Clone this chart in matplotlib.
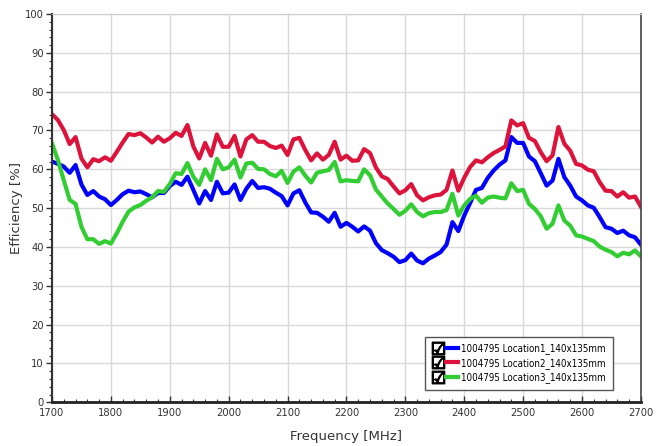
import numpy as np
import matplotlib
matplotlib.use("Agg")
import matplotlib.pyplot as plt
from matplotlib import font_manager
from matplotlib.lines import Line2D
from matplotlib.legend_handler import HandlerTuple

# frequency axis, 10 MHz steps
freq = np.arange(1700, 2701, 10)

loc1 = [62.0, 61.4, 60.7, 59.1, 61.1, 56.1, 53.4, 54.4, 53.0, 52.3,
        50.8, 52.1, 53.6, 54.5, 54.1, 54.3, 53.6, 52.8, 53.9, 53.9,
        55.7, 56.8, 56.0, 58.1, 54.7, 51.2, 54.4, 52.1, 56.8, 53.8,
        54.0, 56.1, 52.1, 55.0, 57.0, 55.2, 55.4, 55.0, 54.0, 53.1,
        50.7, 53.8, 54.6, 51.5, 48.9, 48.8, 47.8, 46.5, 48.8, 45.2,
        46.2, 45.2, 44.0, 45.3, 44.2, 41.0, 39.2, 38.4, 37.5, 36.1,
        36.6, 38.3, 36.5, 35.8, 37.0, 37.8, 38.7, 40.6, 46.4, 44.1,
        48.1, 51.3, 54.7, 55.2, 57.8, 59.7, 61.2, 62.3, 68.3, 66.8,
        66.8, 63.3, 62.1, 59.0, 55.8, 57.1, 62.7, 58.0, 55.8, 53.0,
        52.0, 50.7, 50.1, 47.7, 45.1, 44.7, 43.6, 44.2, 43.0, 42.5,
        40.6]

loc2 = [74.2, 72.7, 70.1, 66.5, 68.3, 62.8, 60.5, 62.6, 62.1, 63.1,
        62.2, 64.5, 66.9, 69.1, 68.8, 69.3, 68.2, 66.9, 68.4, 67.1,
        68.0, 69.4, 68.6, 71.4, 65.9, 62.8, 66.8, 63.5, 69.0, 65.8,
        65.8, 68.6, 63.3, 67.7, 68.8, 67.1, 67.1, 66.0, 65.5, 66.1,
        63.7, 67.7, 68.1, 65.0, 62.3, 64.1, 62.5, 63.7, 67.1, 62.5,
        63.5, 62.2, 62.3, 65.2, 64.2, 60.5, 58.2, 57.5, 55.6, 53.8,
        54.6, 56.2, 53.3, 52.0, 52.8, 53.3, 53.5, 54.7, 59.7, 54.5,
        57.8, 60.6, 62.3, 61.8, 63.1, 64.2, 65.0, 65.9, 72.6, 71.3,
        71.9, 68.1, 67.3, 64.4, 62.1, 63.6, 70.9, 66.6, 64.8, 61.4,
        61.0, 59.9, 59.5, 56.7, 54.5, 54.4, 53.0, 54.1, 52.7, 53.0,
        50.4]

loc3 = [66.7, 62.4, 57.2, 52.1, 51.1, 45.2, 42.0, 42.0, 40.8, 41.5,
        40.9, 43.5, 46.5, 49.1, 50.2, 50.8, 51.9, 52.8, 54.4, 54.2,
        56.2, 59.0, 58.8, 61.6, 58.1, 56.0, 60.0, 57.2, 62.7, 60.0,
        60.5, 62.5, 57.9, 61.5, 61.7, 60.1, 60.0, 58.8, 58.2, 59.6,
        56.5, 59.4, 60.5, 58.4, 56.6, 59.1, 59.5, 59.8, 61.9, 56.9,
        57.2, 57.0, 56.9, 60.0, 58.5, 54.8, 53.0, 51.2, 49.8, 48.3,
        49.3, 51.0, 49.0, 47.9, 48.7, 49.0, 49.0, 49.5, 53.7, 48.1,
        50.7, 52.4, 53.2, 51.4, 52.7, 53.0, 52.7, 52.5, 56.4, 54.4,
        54.7, 51.1, 49.8, 47.9, 44.7, 46.0, 50.7, 46.8, 45.5, 43.0,
        42.7, 42.1, 41.5, 40.1, 39.3, 38.7, 37.6, 38.5, 38.1, 39.1,
        37.6]

labels = ['1004795 Location1_140x135mm',
          '1004795 Location2_140x135mm',
          '1004795 Location3_140x135mm']
colors = ['#0000ff', '#dc143c', '#32cd32']

tick_prop = font_manager.FontProperties(family='DejaVu Sans', stretch='condensed', size=8)
leg_prop = font_manager.FontProperties(family='DejaVu Sans', stretch='condensed', size=7)

fig = plt.figure(figsize=(6.6, 4.46), dpi=100)
ax = fig.add_axes([0.0788, 0.098, 0.8922, 0.8706])

lines = []
for ys, c, lab in zip([loc1, loc2, loc3], colors, labels):
    ln, = ax.plot(freq, ys, color=c, lw=3.0, label=lab, solid_joinstyle='round')
    lines.append(ln)

ax.set_xlim(1700, 2700)
ax.set_ylim(0, 100)
ax.set_xticks(np.arange(1700, 2701, 100))
ax.set_xticks(np.arange(1700, 2701, 20), minor=True)
ax.set_yticks(np.arange(0, 101, 10))
ax.set_yticks(np.arange(0, 101, 2), minor=True)
ax.grid(True, which='major', color='#d9d9d9', lw=1.0)
ax.set_axisbelow(True)

ax.tick_params(axis='y', which='major', direction='out', length=4, width=1, colors='#333333', pad=2)
ax.tick_params(axis='y', which='minor', direction='out', length=2.5, width=0.8, colors='#333333')
ax.tick_params(axis='x', which='major', direction='in', length=4, width=1, colors='#333333', pad=4)
ax.tick_params(axis='x', which='minor', direction='in', length=2.5, width=0.8, colors='#333333')
for lbl in ax.get_xticklabels() + ax.get_yticklabels():
    lbl.set_fontproperties(tick_prop)
    lbl.set_color('#333333')

ax.spines['left'].set_color('#333333')
ax.spines['left'].set_linewidth(1.5)
ax.spines['bottom'].set_color('#222222')
ax.spines['bottom'].set_linewidth(2.0)
ax.spines['right'].set_color('#444444')
ax.spines['right'].set_linewidth(1.2)
ax.spines['top'].set_color('#cccccc')

ax.set_xlabel('Frequency [MHz]', fontsize=9.5, color='#333333')
ax.set_ylabel('Efficiency [%]', fontsize=9.5, color='#333333')
ax.xaxis.set_label_coords(0.5, -0.071)
ax.yaxis.set_label_coords(-0.05, 0.5)

# legend entries: checkbox + coloured line
boxes = [Line2D([], [], marker='$\u2611$', color='black', markersize=9, linestyle='none')
         for _ in lines]
handles = [(b, Line2D([], [], color=c, lw=3.0)) for b, c in zip(boxes, colors)]
leg = ax.legend(handles, labels, loc='lower right', bbox_to_anchor=(0.952, 0.032),
                borderaxespad=0, handler_map={tuple: HandlerTuple(ndivide=None, pad=0.2)},
                handlelength=2.7, handletextpad=0.3, labelspacing=0.35,
                fancybox=False, framealpha=1, edgecolor='#555555',
                borderpad=0.7, prop=leg_prop)
leg.get_frame().set_linewidth(1.0)

fig.savefig('out.png', dpi=100)
